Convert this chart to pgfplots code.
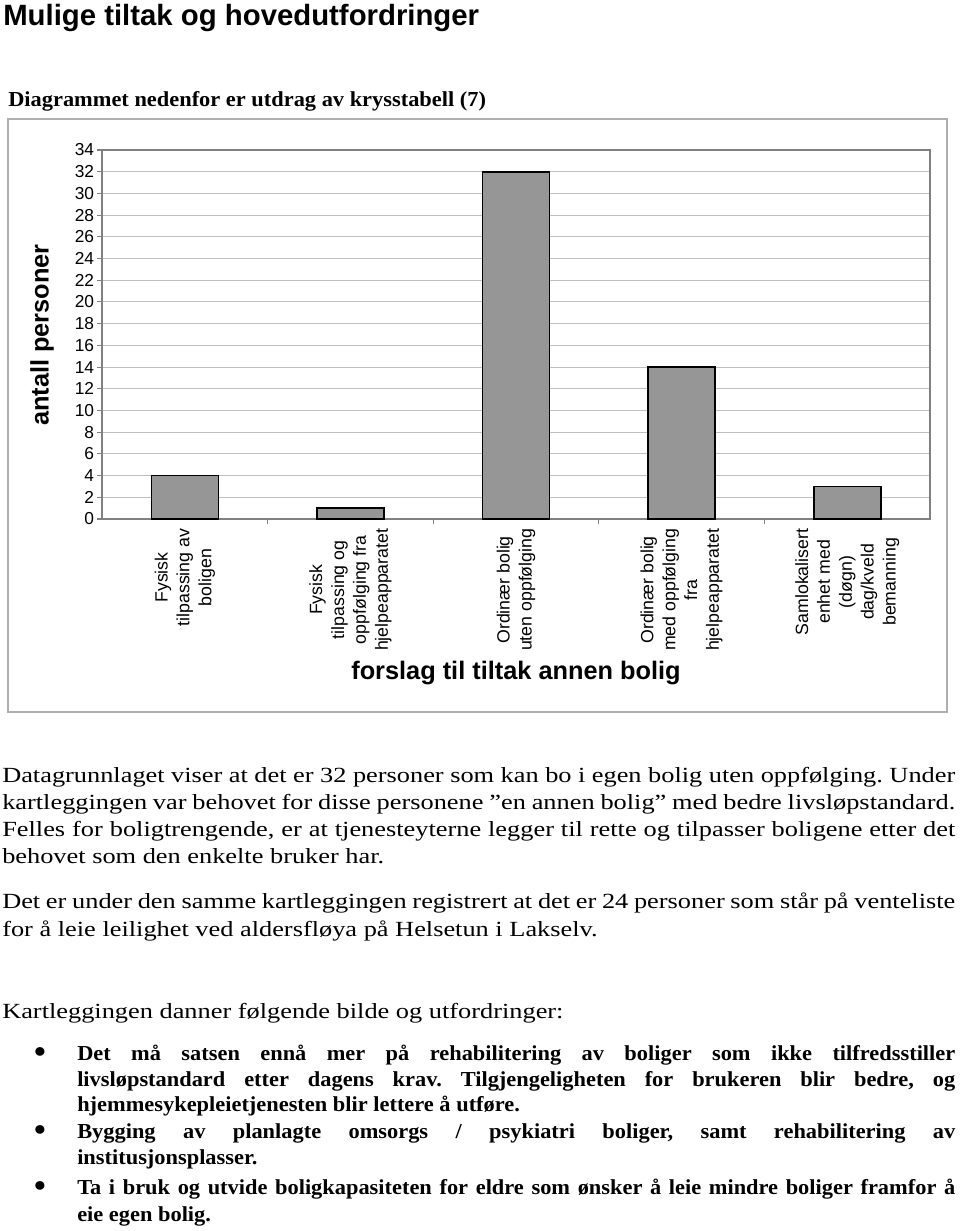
\documentclass[border=0pt]{standalone}
\usepackage{pgfplots}
\pgfplotsset{compat=1.18}
\usepackage{fontspec}
\setmainfont{Liberation Sans}
\newfontfamily\bodyfont[FakeStretch=1.22]{Liberation Serif}
\newfontfamily\bodybold[FakeStretch=1.05]{Liberation Serif Bold}
\definecolor{barfill}{RGB}{150,150,150}
\definecolor{framec}{RGB}{128,128,128}
\definecolor{gridc}{RGB}{190,190,190}
\definecolor{outerc}{RGB}{175,175,175}
\newcommand\reg{\bodyfont\fontsize{16.2pt}{20pt}\selectfont}
\newcommand\bld{\bodybold\fontsize{16pt}{20pt}\selectfont}
\newcommand\jline[4]{\node[anchor=base west, inner sep=0pt] at (#1,#2) {\makebox[#3][s]{#4}};}
\newcommand\lline[3]{\node[anchor=base west, inner sep=0pt] at (#1,#2) {#3};}
\frenchspacing
\begin{document}
\begin{tikzpicture}
\begin{scope}[x=0.75pt,y=-0.75pt]
\useasboundingbox (0,0) rectangle (960,1231);
\coordinate (O) at (102,519);
\draw[outerc, line width=1.3pt] (8,119) rectangle (947,712);
\end{scope}
\begin{axis}[
  at={(O)}, anchor=south west, scale only axis,
  width=621pt, height=276.75pt,
  xmin=-0.5, xmax=4.5, ymin=0, ymax=34,
  ybar, bar width=50.25pt,
  ytick={0,2,...,34},
  xtick={0,1,2,3,4},
  minor xtick={0.5,1.5,2.5,3.5},
  xticklabels={{Fysisk\\tilpassing av\\boligen},{Fysisk\\tilpassing og\\oppfølging fra\\hjelpeapparatet},{Ordinær bolig\\uten oppfølging},{Ordinær bolig\\med oppfølging\\fra\\hjelpeapparatet},{Samlokalisert\\enhet med\\(døgn)\\dag/kveld\\bemanning}},
  tick pos=left, tick align=outside,
  major tick length=3.75pt, minor tick length=3.75pt,
  major x tick style={draw=none},
  every tick/.style={framec, line width=0.8pt},
  minor x tick style={framec, line width=0.8pt},
  major y tick style={framec, line width=0.8pt},
  axis line style={framec, line width=1.1pt},
  ymajorgrids, major grid style={gridc, line width=0.75pt},
  /pgf/number format/assume math mode=true,
  yticklabel style={font=\fontsize{13pt}{15pt}\selectfont, inner sep=2pt},
  xticklabel style={rotate=90, anchor=east, align=center, font=\fontsize{13.3pt}{16.4pt}\selectfont},
]
\addplot[fill=barfill, draw=black, line width=1.2pt] coordinates {(0,4) (1,1) (2,32) (3,14) (4,3)};
\end{axis}
\begin{scope}[x=0.75pt,y=-0.75pt]
\node[anchor=base west, inner sep=0pt, font=\fontsize{22pt}{26pt}\selectfont\bfseries] at (3,26) {Mulige tiltak og hovedutfordringer};
\node[anchor=base west, inner sep=0pt, font=\bld] at (8,107) {Diagrammet nedenfor er utdrag av krysstabell (7)};
\node[rotate=90, inner sep=0pt, font=\fontsize{19pt}{22pt}\selectfont\bfseries] at (42,335) {antall personer};
\node[inner sep=0pt, font=\fontsize{19pt}{22pt}\selectfont\bfseries] at (516,673) {forslag til tiltak annen bolig};
\begin{scope}[font=\reg]
\jline{2}{782}{714.75pt}{Datagrunnlaget viser at det er 32 personer som kan bo i egen bolig uten oppfølging. Under}
\jline{2}{809}{714.75pt}{kartleggingen var behovet for disse personene ”en annen bolig” med bedre livsløpstandard.}
\jline{2}{836}{714.75pt}{Felles for boligtrengende, er at tjenesteyterne legger til rette og tilpasser boligene etter det}
\lline{2}{863}{behovet som den enkelte bruker har.}
\jline{2}{908}{714.75pt}{Det er under den samme kartleggingen registrert at det er 24 personer som står på venteliste}
\lline{2}{936}{for å leie leilighet ved aldersfløya på Helsetun i Lakselv.}
\lline{2}{1018}{Kartleggingen danner følgende bilde og utfordringer:}
\end{scope}
\begin{scope}[font=\bodybold\fontsize{24pt}{24pt}\selectfont]
\node[anchor=base, inner sep=0pt] at (40,1062) {•};
\node[anchor=base, inner sep=0pt] at (40,1140) {•};
\node[anchor=base, inner sep=0pt] at (40,1196) {•};
\end{scope}
\begin{scope}[font=\bld]
\jline{77}{1060}{658.5pt}{Det må satsen ennå mer på rehabilitering av boliger som ikke tilfredsstiller}
\jline{77}{1086}{658.5pt}{livsløpstandard etter dagens krav. Tilgjengeligheten for brukeren blir bedre, og}
\lline{77}{1111}{hjemmesykepleietjenesten blir lettere å utføre.}
\jline{77}{1138}{658.5pt}{Bygging av planlagte omsorgs / psykiatri boliger, samt rehabilitering av}
\lline{77}{1164}{institusjonsplasser.}
\jline{77}{1194}{658.5pt}{Ta i bruk og utvide boligkapasiteten for eldre som ønsker å leie mindre boliger framfor å}
\lline{77}{1221}{eie egen bolig.}
\end{scope}
\end{scope}
\end{tikzpicture}
\end{document}
